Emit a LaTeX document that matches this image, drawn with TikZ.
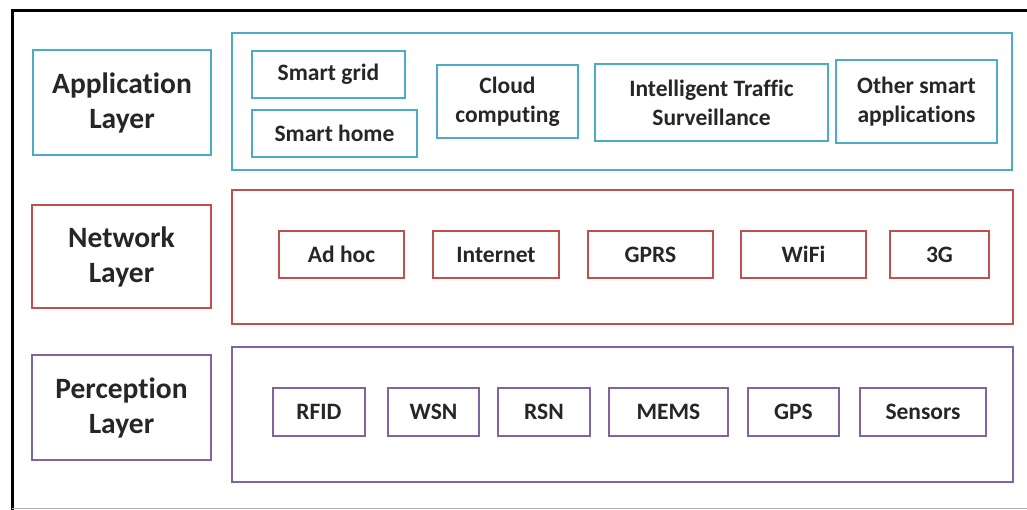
\documentclass[tikz,border=0pt]{standalone}
\usepackage{fontspec}
\setmainfont[Ligatures=NoCommon]{Carlito}
\usetikzlibrary{positioning}
\definecolor{appc}{HTML}{4BACC6}
\definecolor{netc}{HTML}{C0504D}
\definecolor{perc}{HTML}{8064A2}
\definecolor{txt}{HTML}{262626}
\tikzset{
  bx/.style={draw, line width=2.6pt, inner sep=0pt, align=center, text=txt, font=\bfseries\fontsize{23.5}{29}\selectfont},
  lbl/.style={bx, font=\bfseries\fontsize{29.5}{35}\selectfont},
  cont/.style={draw, line width=2.6pt, inner sep=0pt},
  app/.style={draw=appc}, net/.style={draw=netc}, per/.style={draw=perc}
}
\newcommand{\bxat}[7]{% name, style, x1, y1, x2, y2, text
  \node[#2, minimum width={(#5-#3)*1pt}, minimum height={(#6-#4)*1pt}] (#1) at ({(#3+#5)/2},{(#4+#6)/2}) {#7};}
\begin{document}
\begin{tikzpicture}[x=1pt,y=-1pt]
\useasboundingbox (0,0) rectangle (1027,510);
\fill[white] (0,0) rectangle (1027,510);
% outer frame
\coordinate (fbl) at (12,510);
\coordinate (ftl) at (12,11);
\coordinate (ftr) at (1027,11);
\coordinate (fbl2) at (12,508);
\coordinate (fbr) at (1027,508);
\draw[line width=3pt] (fbl) -- (ftl) -- (ftr);
\draw[line width=1pt, gray!60] (fbl2) -- (fbr);
% application layer
\bxat{applbl}{lbl,app}{33}{50}{211}{155}{Application\\Layer}
\bxat{appcont}{cont,app}{232}{33}{1012}{170}{}
\bxat{sgrid}{bx,app}{252}{51}{405}{98}{Smart grid}
\bxat{shome}{bx,app}{252}{110}{417}{157}{Smart home}
\bxat{cloud}{bx,app}{437}{65}{578}{138}{Cloud\\computing}
\bxat{its}{bx,app}{595}{64}{828}{141}{Intelligent Traffic\\Surveillance}
\bxat{other}{bx,app}{836}{60}{997}{143}{Other smart\\applications}
% network layer
\bxat{netlbl}{lbl,net}{32}{205}{211}{308}{Network\\Layer}
\bxat{netcont}{cont,net}{232}{190}{1013}{324}{}
\bxat{adhoc}{bx,net}{279}{231}{404}{278}{Ad hoc}
\bxat{inet}{bx,net}{433}{231}{559}{278}{Internet}
\bxat{gprs}{bx,net}{588}{231}{713}{278}{GPRS}
\bxat{wifi}{bx,net}{741}{231}{866}{278}{WiFi}
\bxat{tg}{bx,net}{890}{231}{989}{278}{3G}
% perception layer
\bxat{perlbl}{lbl,per}{32}{355}{211}{460}{Perception\\Layer}
\bxat{percont}{cont,per}{232}{347}{1013}{482}{}
\bxat{rfid}{bx,per}{273}{388}{365}{436}{RFID}
\bxat{wsn}{bx,per}{388}{388}{479}{436}{WSN}
\bxat{rsn}{bx,per}{498}{388}{590}{436}{RSN}
\bxat{mems}{bx,per}{609}{388}{728}{436}{MEMS}
\bxat{gps}{bx,per}{748}{388}{839}{436}{GPS}
\bxat{sens}{bx,per}{860}{388}{986}{436}{Sensors}
\end{tikzpicture}
\end{document}
